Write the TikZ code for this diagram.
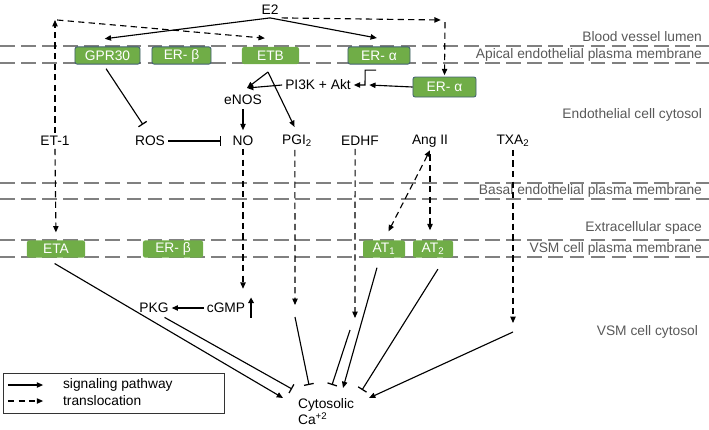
\documentclass[tikz,border=0pt]{standalone}
\usepackage{fontspec}
\setmainfont{Liberation Sans}
\usetikzlibrary{arrows.meta}

\definecolor{boxgreen}{RGB}{112,173,71}
\definecolor{boxedge}{RGB}{65,95,115}
\definecolor{membgray}{RGB}{128,128,128}
\definecolor{labgray}{RGB}{89,89,89}

\tikzset{
	every node/.style={font=\fontsize{9.8}{12}\selectfont, inner sep=2pt},
	memb/.style={membgray, line width=1pt, dash pattern=on 10.5pt off 4.5pt},
	region/.style={labgray, anchor=east},
	rec/.style={fill=boxgreen, text=white, rounded corners=1.5pt, inner sep=0pt, minimum height=0.43cm},
	recb/.style={rec, draw=boxedge, line width=0.6pt},
	sig/.style={line width=0.8pt, ->},
	trl/.style={sig, dash pattern=on 4.5pt off 3pt},
	inh/.style={line width=0.8pt, -{Bar[width=7pt,line width=0.9pt]}},
}

\begin{document}
\begin{tikzpicture}[x=0.025cm, y=-0.025cm, >={Triangle[length=4.5pt,width=3.8pt]}]
	\useasboundingbox (0,0) rectangle (709,429);
	% membranes
	\foreach \y in {46,63,183,199,240,257}
		\draw[memb] (0,\y) -- (709,\y);
	\node[region] (lumen) at (705,37) {Blood vessel lumen};
	\node[region] (apical) at (705,55) {Apical endothelial plasma membrane};
	\node[region] (ecyt) at (705,115) {Endothelial cell cytosol};
	\node[region] (basal) at (705,191) {Basal endothelial plasma membrane};
	\node[region] (extra) at (705,228) {Extracellular space};
	\node[region] (vsmm) at (705,249) {VSM cell plasma membrane};
	\node[region] (vsmc) at (701,332) {VSM cell cytosol};
	% receptors
	\node[recb, minimum width=1.625cm] (gpr) at (107.5,55.5) {GPR30};
	\node[recb, minimum width=1.475cm] (erb) at (181.5,55.5) {ER- β};
	\node[rec, minimum width=1.425cm] (etb) at (270.5,55.5) {ETB};
	\node[recb, minimum width=1.55cm] (era) at (379,55.5) {ER- α};
	\node[recb, minimum width=1.575cm, minimum height=0.5cm] (era2) at (444.5,87) {ER- α};
	\node[rec, minimum width=1.45cm] (eta) at (56,249) {ETA};
	\node[rec, minimum width=1.5cm] (erb2) at (173,249) {ER- β};
	\node[rec, minimum width=1.05cm] (at1) at (384,249) {AT\textsubscript{1}};
	\node[rec, minimum width=1.0cm] (at2) at (433,249) {AT\textsubscript{2}};
	% messengers
	\node (e2) at (270,10) {E2};
	\node (pi) at (318,85) {PI3K + Akt};
	\node (enos) at (243,100) {eNOS};
	\node (et1) at (55,141) {ET-1};
	\node (ros) at (150,141) {ROS};
	\node (no) at (243,141) {NO};
	\node (pgi) at (297,141) {PGI\textsubscript{2}};
	\node (edhf) at (360,141) {EDHF};
	\node (ang) at (430,141) {Ang II};
	\node (txa) at (513,141) {TXA\textsubscript{2}};
	\node (cgmp) at (226,308) {cGMP};
	\node (pkg) at (154,308) {PKG};
	\node[align=left, anchor=north west] (ca) at (295,395) {Cytosolic\\Ca\textsuperscript{+2}};
	\coordinate (lcorner) at (55,20);
	\coordinate (rcorner) at (445,20);
	\coordinate (elbow) at (365,85);
	\coordinate (enosin) at (247,88);
	\coordinate (etbout) at (268,72);
	\coordinate (pgistop) at (295,305);
	\coordinate (pgigo) at (295,317);
	\coordinate (edhfstop) at (355,318);
	\coordinate (edhfgo) at (350,330);
	\coordinate (txastop) at (513,323);
	\coordinate (txago) at (513,332);
	\coordinate (ca1) at (283,398);
	\coordinate (ca2) at (292,389);
	\coordinate (ca3) at (309,385);
	\coordinate (ca4) at (332,385);
	\coordinate (ca5) at (343,388);
	\coordinate (ca6) at (362,390);
	\coordinate (ca7) at (369,398);
	% E2
	\draw[sig] (e2.south) -- ([xshift=-2pt,yshift=5.5pt]gpr.north);
	\draw[sig] (e2.south) -- ([xshift=-1.5pt,yshift=6pt]era.north);
	\draw[trl] (e2.south east) -- ([xshift=-3pt]rcorner);
	\draw[trl, shorten >=1pt] ([yshift=-1.5pt]rcorner) -- (era2.north);
	% ET-1
	\draw[trl] (et1.north) -- (lcorner);
	\draw[trl] ([xshift=1.5pt]lcorner) -- ([xshift=-4pt,yshift=6pt]etb.north);
	\draw[trl, shorten >=5.5pt] (et1.south) -- (eta.north);
	% endothelium
	\draw[sig] ([xshift=-2pt,yshift=-4pt]era.south) -- ++(-11,0) -- (elbow) -- (pi.east);
	\draw[sig] (era2.west) -- ([xshift=3pt]elbow);
	\draw[sig] (pi.west) -- (enosin);
	\draw[sig] (etbout) -- (enosin);
	\draw[sig, shorten >=4pt] (etbout) -- (pgi.north);
	\draw[sig, shorten <=1pt, shorten >=2pt] (enos.south) -- (no.north);
	\draw[inh] ([xshift=-1pt,yshift=-3pt]gpr.south) -- ([xshift=-5pt,yshift=6pt]ros.north);
	\draw[inh, shorten >=6pt] (ros.east) -- (no.west);
	% NO pathway
	\draw[trl, shorten >=8pt] (no.south) -- (no.south |- cgmp.north);
	\draw[sig] (cgmp.west) -- (pkg.east);
	\draw[line width=1.1pt, -{Triangle[length=4pt,width=4pt]}] ([xshift=2pt,yshift=-7pt]cgmp.east) -- ([xshift=2pt,yshift=7.5pt]cgmp.east);
	% into cytosolic Ca
	\draw[sig] ([xshift=-1pt,yshift=-4pt]eta.south) -- (ca1);
	\draw[inh] ([xshift=7.5pt,yshift=-1pt]pkg.south) -- (ca2);
	\draw[trl] ([xshift=-1.5pt]pgi.south) -- (pgistop);
	\draw[inh] (pgigo) -- (ca3);
	\draw[trl] ([xshift=-3.5pt]edhf.south) -- (edhfstop);
	\draw[inh] (edhfgo) -- (ca4);
	\draw[sig] ([xshift=-5pt,yshift=-7pt]at1.south) -- (ca5);
	\draw[inh] ([xshift=3.5pt,yshift=-8pt]at2.south) -- (ca6);
	\draw[trl] (txa.south) -- (txastop);
	\draw[sig] (txago) -- (ca7);
	% Ang II
	\draw[trl, <->, shorten >=7pt] (ang.south) -- (at1.north);
	\draw[trl, shorten <=3pt, shorten >=7pt] (ang.south) -- (ang.south |- at2.north);
	% legend
	\draw[line width=0.7pt, black!80] (3,373) rectangle (224,413);
	\node[anchor=west] (sigtxt) at (60,385) {signaling pathway};
	\node[anchor=west] (trltxt) at (60,401) {translocation};
	\draw[sig] ([xshift=-37pt]sigtxt.west) -- ([xshift=-12pt]sigtxt.west);
	\draw[trl] ([xshift=-37pt]trltxt.west) -- ([xshift=-12pt]trltxt.west);
\end{tikzpicture}
\end{document}
